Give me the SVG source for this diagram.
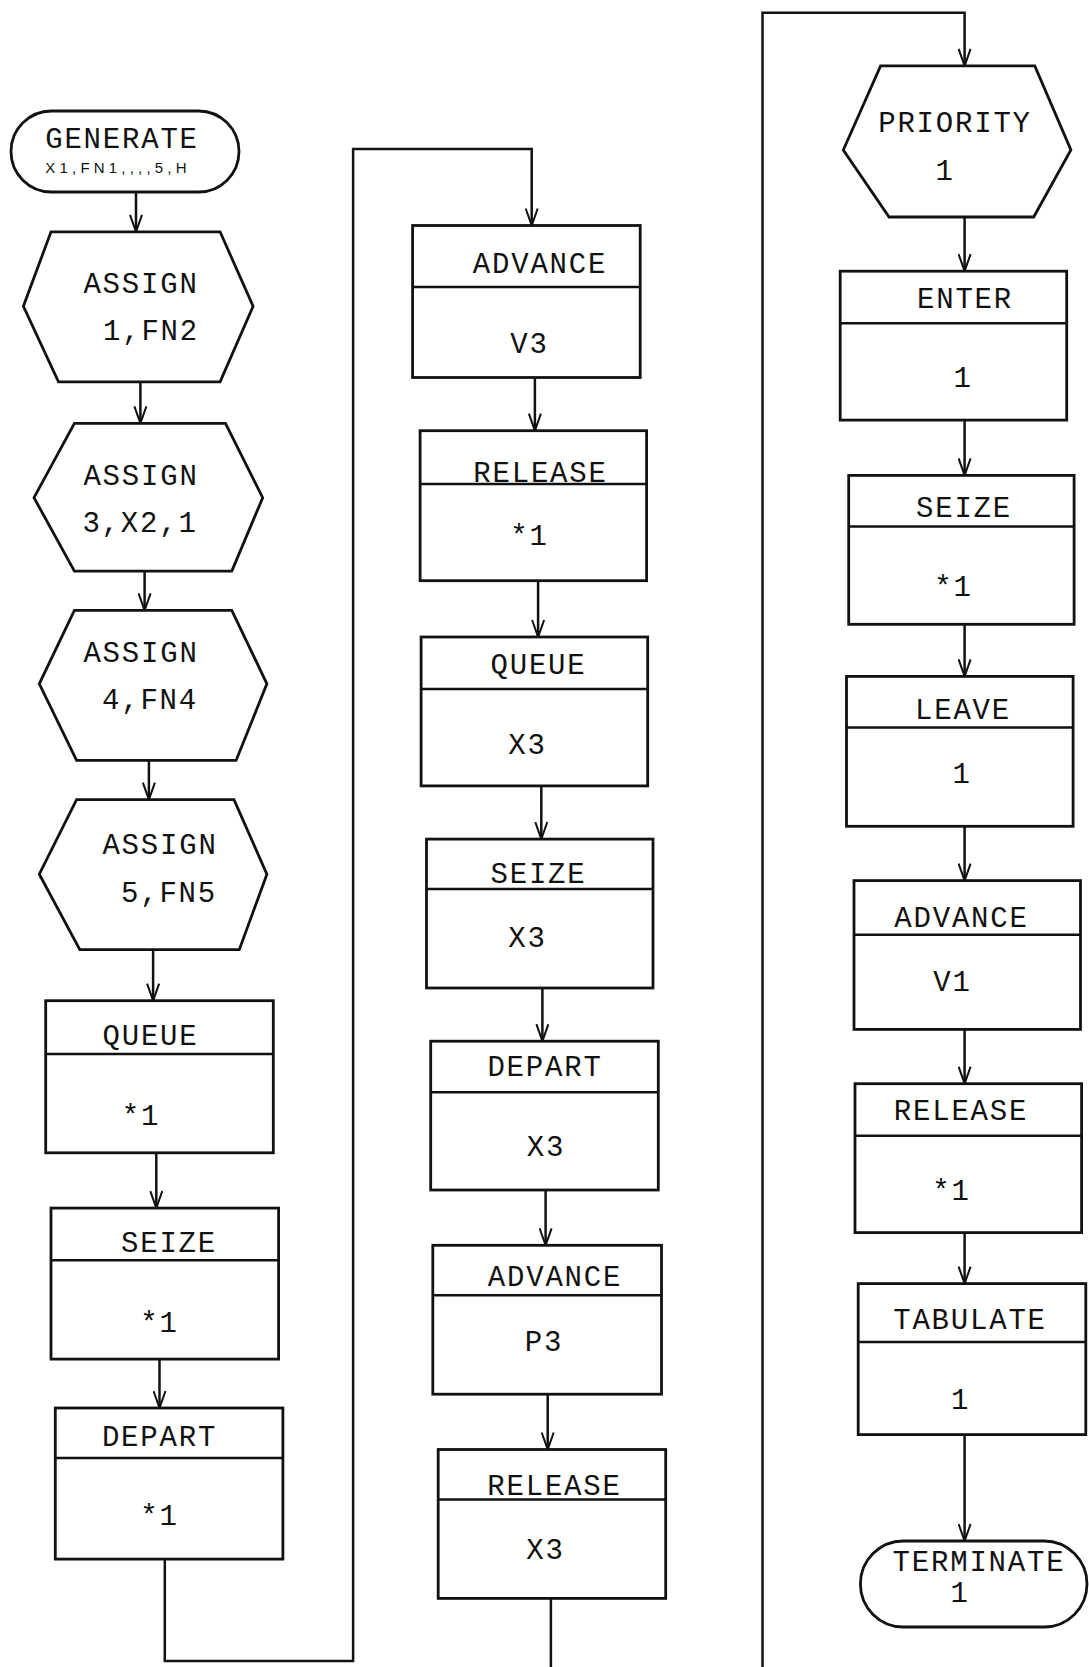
<svg xmlns="http://www.w3.org/2000/svg" width="1089" height="1667" viewBox="0 0 1089 1667">
<defs>
<style>
.shape{fill:#fff;stroke:#111;stroke-width:2.8;stroke-linejoin:miter}
.div{stroke:#111;stroke-width:2.5}
.t{font-family:"Liberation Mono","Courier New",monospace;font-size:29px;letter-spacing:1.8px;fill:#111;text-anchor:middle}
.s{font-family:"Liberation Sans",Arial,sans-serif;font-size:15px;letter-spacing:4.2px;fill:#111;text-anchor:middle}
.c{fill:none;stroke:#111;stroke-width:2.5}
</style>
<marker id="ah" markerUnits="userSpaceOnUse" markerWidth="20" markerHeight="14" viewBox="0 0 20 14" refX="18" refY="7" orient="auto">
<path d="M1,1 L18,7 L1,13" fill="none" stroke="#111" stroke-width="2"/>
</marker>
</defs>
<rect width="1089" height="1667" fill="#fff"/>
<g id="connectors">
<path class="c" d="M136,192.5 V231.8" marker-end="url(#ah)"/>
<path class="c" d="M140.4,381.8 V423.3" marker-end="url(#ah)"/>
<path class="c" d="M144.6,571.1 V610.4" marker-end="url(#ah)"/>
<path class="c" d="M148.9,760.4 V799.7" marker-end="url(#ah)"/>
<path class="c" d="M153.1,949.7 V1000.7" marker-end="url(#ah)"/>
<path class="c" d="M156.3,1152.8 V1208.1" marker-end="url(#ah)"/>
<path class="c" d="M159.5,1359.1 V1408" marker-end="url(#ah)"/>
<path class="c" d="M164.8,1559.1 V1661 H353.1 V148.9 H531.7 V225.5" marker-end="url(#ah)"/>
<path class="c" d="M534.9,377.5 V430.7" marker-end="url(#ah)"/>
<path class="c" d="M538.1,580.7 V637" marker-end="url(#ah)"/>
<path class="c" d="M541.3,785.9 V839.1" marker-end="url(#ah)"/>
<path class="c" d="M542.4,988 V1041.2" marker-end="url(#ah)"/>
<path class="c" d="M545.6,1190 V1245.3" marker-end="url(#ah)"/>
<path class="c" d="M547.7,1394.2 V1449.5" marker-end="url(#ah)"/>
<path class="c" d="M550.9,1598.4 V1667"/>
<path class="c" d="M762.5,1667 V12.8 H964.6 V65.9" marker-end="url(#ah)"/>
<path class="c" d="M964.6,217 V271.2" marker-end="url(#ah)"/>
<path class="c" d="M964.6,420.1 V475.4" marker-end="url(#ah)"/>
<path class="c" d="M964.6,624.3 V676.4" marker-end="url(#ah)"/>
<path class="c" d="M964.6,826.3 V880.6" marker-end="url(#ah)"/>
<path class="c" d="M964.6,1029.4 V1083.7" marker-end="url(#ah)"/>
<path class="c" d="M964.6,1232.6 V1283.6" marker-end="url(#ah)"/>
<path class="c" d="M964.6,1434.6 V1541" marker-end="url(#ah)"/>
</g>
<g id="generate">
<rect class="shape" x="11" y="111" width="228" height="81" rx="40.5"/>
<text class="t" x="122" y="148">GENERATE</text>
<text class="s" x="118" y="173">X1,FN1,,,,5,H</text>
</g>
<g id="assign1">
<polygon class="shape" points="51,231.8 220.1,231.8 253.1,306.3 220.1,381.8 58.5,381.8 23.4,306.3"/>
<text class="t" x="141" y="292.5">ASSIGN</text>
<text class="t" x="151" y="340.3">1,FN2</text>
</g>
<g id="assign2">
<polygon class="shape" points="74.4,423.3 225.5,423.3 262.7,497.7 231.8,571.1 74.4,571.1 34,497.7"/>
<text class="t" x="141" y="485">ASSIGN</text>
<text class="t" x="140" y="531.8">3,X2,1</text>
</g>
<g id="assign3">
<polygon class="shape" points="74.4,610.4 231.8,610.4 266.9,683.8 236.1,760.4 76.6,760.4 39.3,683.8"/>
<text class="t" x="141" y="661.5">ASSIGN</text>
<text class="t" x="150" y="709.3">4,FN4</text>
</g>
<g id="assign4">
<polygon class="shape" points="76.6,799.7 234,799.7 266.9,874.2 239.3,949.7 79.8,949.7 39.3,874.2"/>
<text class="t" x="160" y="854">ASSIGN</text>
<text class="t" x="169" y="901.8">5,FN5</text>
</g>
<g id="queue1">
<rect class="shape" x="45.7" y="1000.7" width="227.6" height="152.1"/>
<line class="div" x1="45.7" y1="1053.9" x2="273.3" y2="1053.9"/>
<text class="t" x="150.5" y="1045.4">QUEUE</text>
<text class="t" x="141" y="1125.2">*1</text>
</g>
<g id="seize1">
<rect class="shape" x="51" y="1208.1" width="227.6" height="151"/>
<line class="div" x1="51" y1="1260.2" x2="278.6" y2="1260.2"/>
<text class="t" x="169" y="1251.7">SEIZE</text>
<text class="t" x="159.5" y="1331.5">*1</text>
</g>
<g id="depart1">
<rect class="shape" x="55.3" y="1408" width="227.6" height="151.1"/>
<line class="div" x1="55.3" y1="1458" x2="282.9" y2="1458"/>
<text class="t" x="159.5" y="1446.3">DEPART</text>
<text class="t" x="159.5" y="1525">*1</text>
</g>
<g id="advance_v3">
<rect class="shape" x="412.6" y="225.5" width="227.6" height="152"/>
<line class="div" x1="412.6" y1="287.1" x2="640.2" y2="287.1"/>
<text class="t" x="540" y="273.3">ADVANCE</text>
<text class="t" x="529.5" y="353.1">V3</text>
</g>
<g id="release_1">
<rect class="shape" x="420.1" y="430.7" width="226.5" height="150"/>
<line class="div" x1="420.1" y1="483.9" x2="646.6" y2="483.9"/>
<text class="t" x="540.5" y="481.8">RELEASE</text>
<text class="t" x="529.5" y="544.5">*1</text>
</g>
<g id="queue_x3">
<rect class="shape" x="421.1" y="637" width="226.6" height="148.9"/>
<line class="div" x1="421.1" y1="689.1" x2="647.7" y2="689.1"/>
<text class="t" x="538.5" y="674.2">QUEUE</text>
<text class="t" x="527.5" y="754">X3</text>
</g>
<g id="seize_x3">
<rect class="shape" x="426.5" y="839.1" width="226.5" height="148.9"/>
<line class="div" x1="426.5" y1="889.1" x2="653" y2="889.1"/>
<text class="t" x="538.5" y="882.7">SEIZE</text>
<text class="t" x="527.5" y="946.5">X3</text>
</g>
<g id="depart_x3">
<rect class="shape" x="430.7" y="1041.2" width="227.6" height="148.8"/>
<line class="div" x1="430.7" y1="1092.2" x2="658.3" y2="1092.2"/>
<text class="t" x="545" y="1076.2">DEPART</text>
<text class="t" x="546" y="1156">X3</text>
</g>
<g id="advance_p3">
<rect class="shape" x="432.8" y="1245.3" width="228.7" height="148.9"/>
<line class="div" x1="432.8" y1="1295.3" x2="661.5" y2="1295.3"/>
<text class="t" x="555" y="1285.8">ADVANCE</text>
<text class="t" x="544" y="1350.6">P3</text>
</g>
<g id="release_x3">
<rect class="shape" x="438.2" y="1449.5" width="227.5" height="148.9"/>
<line class="div" x1="438.2" y1="1499.5" x2="665.7" y2="1499.5"/>
<text class="t" x="554.5" y="1495.2">RELEASE</text>
<text class="t" x="545.5" y="1559">X3</text>
</g>
<g id="priority">
<polygon class="shape" points="880.6,65.9 1034.8,65.9 1070.9,150 1033.7,217 889.1,217 843.3,150"/>
<text class="t" x="955" y="131.9">PRIORITY</text>
<text class="t" x="945" y="179.7">1</text>
</g>
<g id="enter">
<rect class="shape" x="840.2" y="271.2" width="226.5" height="148.9"/>
<line class="div" x1="840.2" y1="323.3" x2="1066.7" y2="323.3"/>
<text class="t" x="965" y="308.4">ENTER</text>
<text class="t" x="963" y="387.1">1</text>
</g>
<g id="seize_3">
<rect class="shape" x="848.7" y="475.4" width="225.4" height="148.9"/>
<line class="div" x1="848.7" y1="526.4" x2="1074.1" y2="526.4"/>
<text class="t" x="964" y="516.9">SEIZE</text>
<text class="t" x="953.5" y="595.5">*1</text>
</g>
<g id="leave">
<rect class="shape" x="846.5" y="676.4" width="226.6" height="149.9"/>
<line class="div" x1="846.5" y1="727.4" x2="1073.1" y2="727.4"/>
<text class="t" x="963" y="718.9">LEAVE</text>
<text class="t" x="962" y="782.7">1</text>
</g>
<g id="advance_v1">
<rect class="shape" x="854" y="880.6" width="226.5" height="148.8"/>
<line class="div" x1="854" y1="934.8" x2="1080.5" y2="934.8"/>
<text class="t" x="961.5" y="927.4">ADVANCE</text>
<text class="t" x="952.5" y="991.2">V1</text>
</g>
<g id="release_3">
<rect class="shape" x="855" y="1083.7" width="226.6" height="148.9"/>
<line class="div" x1="855" y1="1135.8" x2="1081.6" y2="1135.8"/>
<text class="t" x="961" y="1119.8">RELEASE</text>
<text class="t" x="951.5" y="1199.6">*1</text>
</g>
<g id="tabulate">
<rect class="shape" x="858.2" y="1283.6" width="227.6" height="151"/>
<line class="div" x1="858.2" y1="1342.1" x2="1085.8" y2="1342.1"/>
<text class="t" x="970" y="1329.3">TABULATE</text>
<text class="t" x="960.5" y="1409.1">1</text>
</g>
<g id="terminate">
<rect class="shape" x="860.4" y="1541" width="226.6" height="86" rx="43"/>
<text class="t" x="979" y="1570.8">TERMINATE</text>
<text class="t" x="960" y="1601.6">1</text>
</g>
</svg>
